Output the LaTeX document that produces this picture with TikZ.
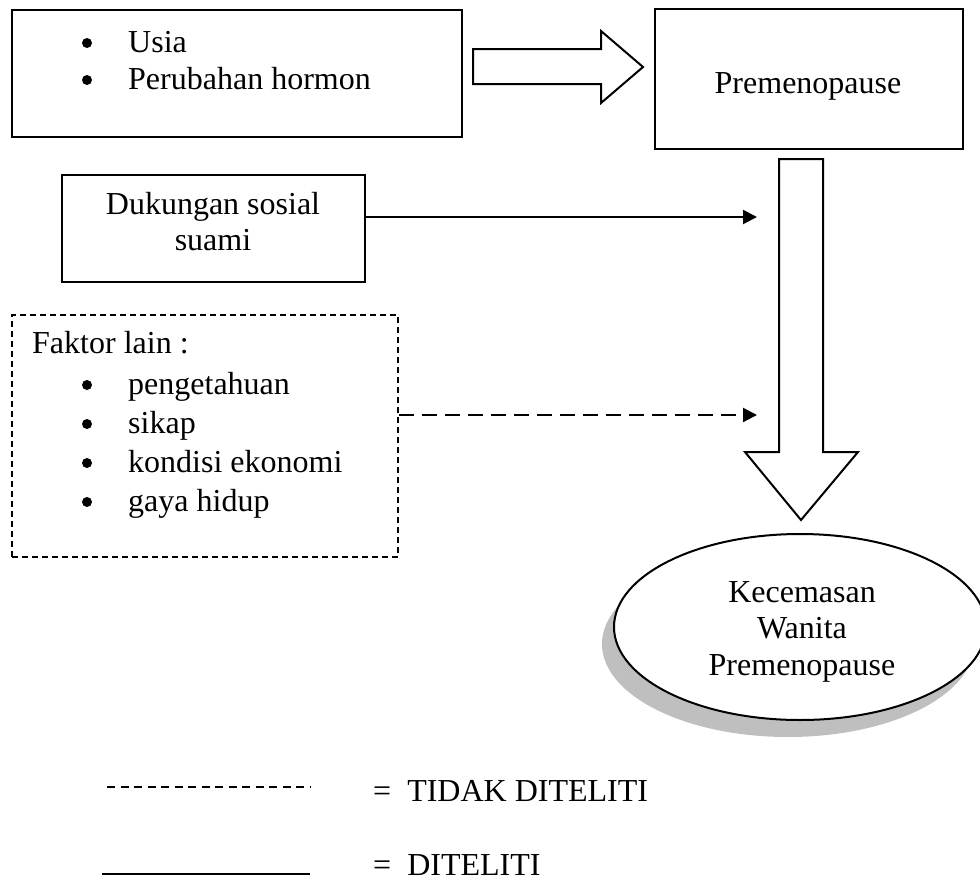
\documentclass[tikz,border=0pt]{standalone}
\usepackage{fontspec}
\setmainfont{Liberation Serif}
\usetikzlibrary{arrows.meta,shapes.geometric,shadows}
\tikzset{
    every node/.style={font=\fontsize{32}{37}\selectfont, inner sep=0pt},
    kotak/.style={draw, line width=2pt},
    kotakputus/.style={draw, line width=1.6pt, dash pattern=on 6pt off 4pt},
    titik/.style={circle, fill=black, minimum size=10pt},
    panah/.style={line width=2pt, -{Triangle[length=14pt,width=14pt]}},
    blok/.style={draw, line width=2pt, fill=white, line join=miter}
}

\begin{document}
\begin{tikzpicture}[x=1pt, y=-1pt]
    \useasboundingbox (0,0) rectangle (980,881);

    % Draw boxes
    \node[kotak, minimum width=450pt, minimum height=127pt] (faktor) at (237,73.5) {};
    \node[kotak, minimum width=308pt, minimum height=140pt] (premen) at (809,79) {};
    \node[kotak, minimum width=303pt, minimum height=107pt] (dukungan) at (213.5,228.5) {};
    \node[kotakputus, minimum width=386pt, minimum height=242pt] (lain) at (205,436) {};

    % Box texts
    \foreach \i/\y/\t in {1/52/Usia, 2/89/Perubahan hormon} {
        \node[titik] (bu\i) at (87,\y-9) {};
        \node[anchor=base west] (tu\i) at (128,\y) {\t};
    }
    \node[anchor=base] (tpremen) at (808,93) {Premenopause};
    \node[anchor=base] (tduk1) at (213,214) {Dukungan sosial};
    \node[anchor=base] (tduk2) at (213,250) {suami};
    \node[anchor=base west] (tlain) at (32,353) {Faktor lain :};
    \foreach \i/\y/\t in {1/394/pengetahuan, 2/433/sikap, 3/472/kondisi ekonomi, 4/511/gaya hidup} {
        \node[titik] (bl\i) at (87,\y-9) {};
        \node[anchor=base west] (tl\i) at (128,\y) {\t};
    }

    % Draw block arrows
    \draw[blok] (473,49) -- (601,49) -- (601,31) -- (643,67) -- (601,103) -- (601,84) -- (473,84) -- cycle;
    \draw[blok] (779,159) -- (823,159) -- (823,452) -- (858,452) -- (801,520) -- (745,452) -- (779,452) -- cycle;

    % Draw connectors
    \coordinate (ujung1) at (757,217);
    \coordinate (ujung2) at (757,415);
    \draw[panah] (dukungan.east |- ujung1) -- (ujung1);
    \draw[panah, dash pattern=on 15pt off 8pt] (lain.east |- ujung2) -- (ujung2);

    % Draw outcome
    \node[ellipse, draw, line width=2pt, fill=white, minimum width=372pt, minimum height=186pt,
        drop shadow={shadow xshift=-12pt, shadow yshift=-17pt, fill=black!25, opacity=1}] (cemas) at (800,627) {};
    \foreach \i/\y/\t in {1/602/Kecemasan, 2/638/Wanita, 3/675/Premenopause} {
        \node[anchor=base] (tc\i) at (802,\y) {\t};
    }

    % Legend
    \coordinate (garis1a) at (107,787);
    \coordinate (garis1b) at (310,787);
    \coordinate (garis2a) at (102,874);
    \coordinate (garis2b) at (310,874);
    \draw[line width=1.5pt, dash pattern=on 8pt off 5.5pt] (garis1a) -- (garis1b);
    \draw[line width=2pt] (garis2a) -- (garis2b);
    \node[anchor=base west] (ket1) at (373,801) {=\ \ TIDAK DITELITI};
    \node[anchor=base west] (ket2) at (373,875) {=\ \ DITELITI};
\end{tikzpicture}
\end{document}
